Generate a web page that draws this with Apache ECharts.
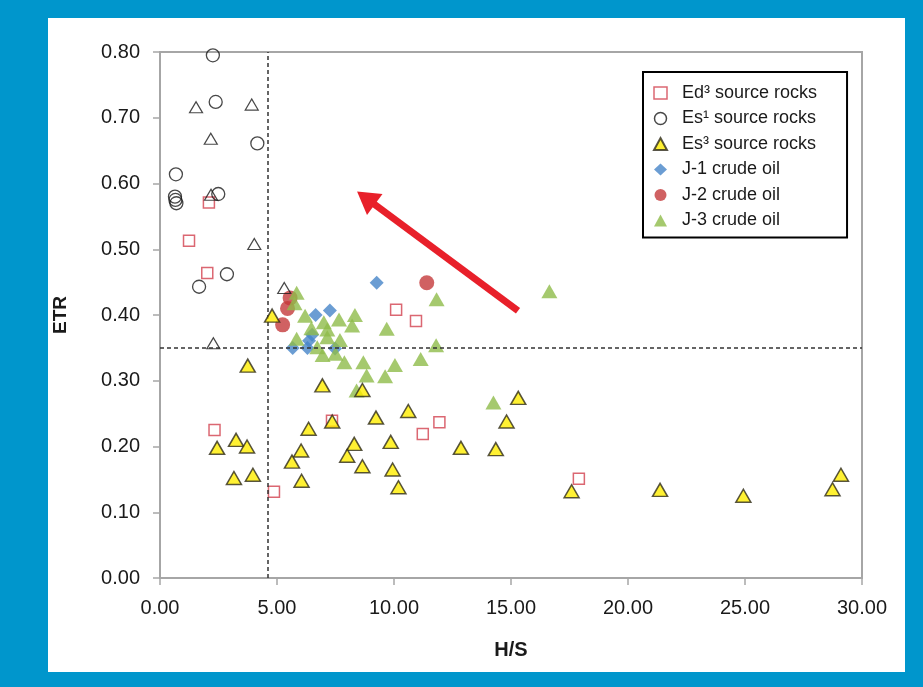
<!DOCTYPE html>
<html>
<head>
<meta charset="utf-8">
<script src="https://cdn.jsdelivr.net/npm/echarts@6/dist/echarts.min.js"></script>
<style>
  html, body { margin: 0; padding: 0; background: #0096cc; }
  #chart { width: 923px; height: 687px; }
</style>
</head>
<body>
<div id="chart"></div>
<script>
// Axis ticks
const xTicks = [0, 5, 10, 15, 20, 25, 30];
const yTicks = [0, 0.1, 0.2, 0.3, 0.4, 0.5, 0.6, 0.7, 0.8];

// Threshold guides (H/S and ETR cut-offs)
const hsCutoff = 4.62;
const etrCutoff = 0.35;

// Trend arrow: [start, end] in H/S, ETR
const trendArrow = [[15.30, 0.4065], [8.80, 0.578]];

// Ed3 source rocks
const ed3 = [[2.09,0.571],[1.24,0.513],[2.02,0.464],[2.33,0.225],[4.87,0.131],[10.09,0.408],
  [10.94,0.391],[7.35,0.239],[11.23,0.219],[11.94,0.237],[17.90,0.151]];

// Es1 source rocks (circles)
const es1 = [[2.26,0.795],[2.38,0.724],[4.16,0.661],[0.68,0.614],[0.64,0.580],[0.66,0.575],
  [0.70,0.570],[2.49,0.584],[2.86,0.462],[1.67,0.443]];

// Es1 source rocks (open triangles)
const es1Tri = [[1.54,0.716],[3.92,0.720],[2.17,0.668],[2.18,0.583],[4.03,0.508],[5.31,0.441],[2.28,0.357]];

// Es3 source rocks
const es3 = [[4.79,0.399],[3.75,0.323],[6.94,0.293],[8.65,0.286],[10.61,0.254],[15.31,0.274],
  [9.23,0.244],[7.36,0.238],[14.81,0.238],[6.35,0.227],[8.30,0.204],[9.86,0.207],[12.86,0.198],
  [14.35,0.196],[6.03,0.194],[8.00,0.186],[8.65,0.170],[9.94,0.165],[6.05,0.148],[10.19,0.138],
  [17.59,0.132],[21.37,0.134],[24.93,0.125],[28.74,0.135],[29.10,0.157],[2.44,0.198],[3.25,0.210],
  [3.72,0.200],[3.16,0.152],[3.97,0.157],[5.64,0.177]];

// J-1 crude oil
const j1 = [[9.26,0.449],[6.65,0.400],[7.26,0.407],[6.37,0.361],[6.50,0.370],[5.67,0.350],[6.30,0.350],[7.48,0.349]];

// J-2 crude oil
const j2 = [[11.40,0.449],[5.56,0.426],[5.45,0.410],[5.24,0.385]];

// J-3 crude oil
const j3 = [[5.84,0.434],[5.75,0.418],[11.82,0.424],[16.64,0.436],[6.20,0.399],[7.00,0.389],
  [7.65,0.393],[8.33,0.400],[8.21,0.384],[6.47,0.380],[7.15,0.378],[9.69,0.379],[5.84,0.364],
  [7.15,0.366],[7.69,0.362],[11.80,0.354],[6.72,0.351],[6.95,0.339],[7.50,0.341],[7.88,0.328],
  [8.69,0.328],[10.04,0.324],[11.14,0.333],[8.83,0.308],[9.62,0.307],[8.40,0.285],[14.25,0.267]];

const FONT = 'Liberation Sans, Arial, sans-serif';
const chart = echarts.init(document.getElementById('chart'), null, { renderer: 'canvas' });

chart.setOption({
  backgroundColor: '#0096cc',
  animation: false,
  graphic: [{
    type: 'rect', left: 48, top: 18, z: -10,
    shape: { width: 857, height: 654 },
    style: { fill: '#ffffff' }
  }],
  grid: {
    left: 160, top: 52, right: 61, bottom: 109,
    show: true, borderColor: '#a6a6a6', borderWidth: 2, backgroundColor: 'transparent'
  },
  legend: {
    data: [
      { name: 'Ed³ source rocks', itemStyle: { borderWidth: 1.5 } },
      { name: 'Es¹ source rocks', itemStyle: { borderWidth: 1.5 } },
      { name: 'Es³ source rocks' },
      { name: 'J-1 crude oil' },
      { name: 'J-2 crude oil' },
      { name: 'J-3 crude oil' }
    ],
    orient: 'vertical',
    left: 643, top: 72,
    padding: [12, 30, 8, 10],
    borderColor: '#000', borderWidth: 2,
    backgroundColor: '#fff',
    itemWidth: 13, itemHeight: 12, itemGap: 7.5, symbolKeepAspect: true,
    textStyle: { fontFamily: FONT, fontSize: 18, color: '#1a1a1a', padding: [0, 0, 0, 10] }
  },
  xAxis: {
    type: 'value', min: 0, max: 30, interval: xTicks[1] - xTicks[0],
    name: 'H/S', nameLocation: 'middle', nameGap: 62,
    nameTextStyle: { fontFamily: FONT, fontSize: 20, fontWeight: 'bold', color: '#1a1a1a' },
    axisLine: { show: true, onZero: false, lineStyle: { color: '#a6a6a6', width: 2 } },
    axisTick: { show: true, length: 7, lineStyle: { color: '#a6a6a6', width: 1.5 } },
    axisLabel: { fontFamily: FONT, fontSize: 20, color: '#1a1a1a', margin: 20,
      formatter: v => v.toFixed(2) },
    splitLine: { show: false }
  },
  yAxis: {
    type: 'value', min: 0, max: 0.8, interval: yTicks[1] - yTicks[0],
    name: 'ETR', nameLocation: 'middle', nameGap: 90, nameRotate: 90,
    nameTextStyle: { fontFamily: FONT, fontSize: 19, fontWeight: 'bold', color: '#1a1a1a' },
    axisLine: { show: true, onZero: false, lineStyle: { color: '#a6a6a6', width: 2 } },
    axisTick: { show: true, length: 7, lineStyle: { color: '#a6a6a6', width: 1.5 } },
    axisLabel: { fontFamily: FONT, fontSize: 20, color: '#1a1a1a', margin: 20,
      formatter: v => v.toFixed(2) },
    splitLine: { show: false }
  },
  series: [
    {
      name: 'guides', type: 'line', data: [], silent: true,
      markLine: {
        silent: true, symbol: ['none', 'none'], label: { show: false }, animation: false,
        lineStyle: { color: '#333', type: [4, 3], width: 1.5 },
        data: [{ xAxis: hsCutoff }, { yAxis: etrCutoff }]
      }
    },
    {
      name: 'J-1 crude oil', type: 'scatter', data: j1, z: 3,
      symbol: 'diamond', symbolSize: 14,
      itemStyle: { color: '#4684c8' }
    },
    {
      name: 'J-2 crude oil', type: 'scatter', data: j2, z: 3,
      symbol: 'circle', symbolSize: 15,
      itemStyle: { color: '#c4393b' }
    },
    {
      name: 'J-3 crude oil', type: 'scatter', data: j3, z: 3,
      symbol: 'triangle', symbolSize: [16, 14],
      itemStyle: { color: '#8fbc4a' }
    },
    {
      name: 'Ed³ source rocks', type: 'scatter', data: ed3, z: 4,
      symbol: 'rect', symbolSize: 11,
      itemStyle: { color: '#ffffff', borderColor: '#d2414f', borderWidth: 1.5 }
    },
    {
      name: 'Es¹ source rocks', type: 'scatter', data: es1, z: 4,
      symbol: 'circle', symbolSize: 13,
      itemStyle: { color: 'rgba(255,255,255,0)', borderColor: '#1a1a1a', borderWidth: 1.3 }
    },
    {
      name: 'Es¹ open triangles', type: 'scatter', data: es1Tri, z: 4,
      symbol: 'triangle', symbolSize: [13, 11],
      itemStyle: { color: 'rgba(255,255,255,0)', borderColor: '#1a1a1a', borderWidth: 1.2 }
    },
    {
      name: 'Es³ source rocks', type: 'scatter', data: es3, z: 5,
      symbol: 'triangle', symbolSize: [15, 13],
      itemStyle: { color: '#ffee00', borderColor: '#2e2a1a', borderWidth: 1.5 }
    },
    {
      name: 'trend', type: 'line', data: [], silent: true, z: 6,
      markLine: {
        silent: true, animation: false,
        symbol: ['none', 'triangle'], symbolSize: [26, 22],
        label: { show: false },
        lineStyle: { color: '#e8202a', type: 'solid', width: 7 },
        data: [[{ coord: trendArrow[0] }, { coord: trendArrow[1] }]]
      }
    }
  ]
});
</script>
</body>
</html>
